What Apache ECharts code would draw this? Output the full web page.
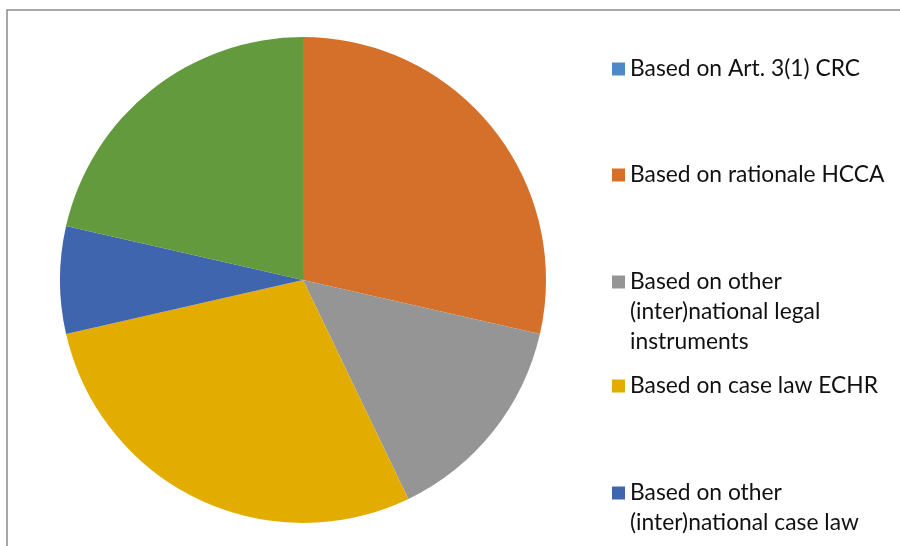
<!DOCTYPE html>
<html>
<head>
<meta charset="utf-8">
<script src="https://cdn.jsdelivr.net/npm/echarts@6/dist/echarts.min.js"></script>
<style>html,body{margin:0;padding:0;background:#fff}#c{width:900px;height:546px}</style>
</head>
<body>
<div id="c"></div>
<script>
const categories = [
  'Based on Art. 3(1) CRC',
  'Based on rationale HCCA',
  'Based on other\n(inter)national legal\ninstruments',
  'Based on case law ECHR',
  'Based on other\n(inter)national case law',
  'Other'
];
const values = [0, 4, 2, 4, 1, 3];
const colors = ['#4F88C6', '#D5702B', '#959595', '#E2AC00', '#3F65AE', '#649A3E'];
const legendIconY = [69, 175, 282, 386, 493];

const chart = echarts.init(document.getElementById('c'), null, {renderer: 'canvas'});
const lineH = 30;
const legends = legendIconY.map((y, i) => {
  const nLines = categories[i].split('\n').length;
  const boxH = (2 * nLines - 1) * lineH;
  return {
    data: [categories[i]],
    orient: 'vertical',
    left: 612,
    top: y - boxH / 2,
    padding: 0,
    itemWidth: 13,
    itemHeight: 13,
    icon: 'rect',
    itemGap: 0,
    selectedMode: false,
    formatter: (name) => '\n'.repeat(nLines - 1) + name,
    textStyle: {
      fontFamily: 'Lato',
      fontSize: 22.8,
      color: '#111',
      lineHeight: lineH
    }
  };
});

chart.setOption({
  animation: false,
  color: colors,
  graphic: [{
    type: 'rect',
    shape: {x: 7, y: 10, width: 1000, height: 700},
    style: {fill: 'none', stroke: '#8c8c8c', lineWidth: 1.5},
    silent: true
  }],
  legend: legends,
  series: [{
    type: 'pie',
    center: [303, 280],
    radius: [0, 243],
    startAngle: 90,
    clockwise: true,
    label: {show: false},
    labelLine: {show: false},
    itemStyle: {borderWidth: 0},
    data: categories.map((n, i) => ({name: n, value: values[i]}))
  }]
});
</script>
</body>
</html>
